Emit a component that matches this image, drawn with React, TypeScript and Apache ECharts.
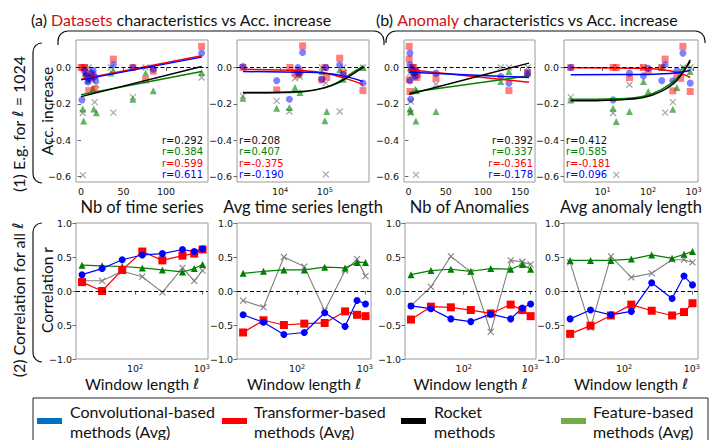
import React, { useEffect, useRef } from 'react';
import * as echarts from 'echarts';

// ---------- (1) accuracy increase per dataset, window length 1024 ----------
// Nb of time series
const nbSeriesConv = [[1, -0.178], [4, -0.02], [6, -0.045], [8, -0.08], [9, -0.06], [12, -0.03], [14, -0.015], [16, -0.05], [17, -0.07], [38, 0.015], [61, 0], [85, -0.01], [142, 0.079]];
const nbSeriesTrans = [[0, 0], [2, 0], [4, 0], [6, -0.03], [8, -0.05], [9, -0.127], [12, -0.06], [14, -0.04], [16, -0.12], [38, 0.046], [61, 0], [76, -0.068], [85, -0.02], [142, 0.116]];
const nbSeriesFeat = [[2, -0.228], [3, -0.294], [5, -0.03], [8, -0.07], [12, -0.05], [14, -0.114], [15, -0.228], [18, -0.248], [35, -0.03], [38, -0.018], [61, -0.174], [76, -0.03], [85, -0.128], [142, -0.028]];
const nbSeriesRocket = [[2, -0.591], [2, -0.25], [5, 0], [9, 0], [12, -0.06], [16, -0.19], [18, -0.095], [35, 0], [38, -0.248], [61, -0.163], [76, 0], [85, 0], [142, -0.055]];
const nbSeriesFitRocket = [[0, -0.16], [142, 0.005]];
const nbSeriesFitFeat = [[0, -0.15], [142, -0.022]];
const nbSeriesFitTrans = [[0, -0.064], [142, 0.064]];
const nbSeriesFitConv = [[0, -0.068], [142, 0.057]];
const nbSeriesR = ['0.292', '0.384', '0.599', '0.611'];

// Avg time series length
const tsLenConv = [[1480, 0.005], [8400, -0.072], [16100, -0.174], [25000, 0], [26000, -0.03], [31800, 0.083], [85000, -0.064], [105000, 0], [214000, 0.015], [257000, -0.037], [708000, -0.086]];
const tsLenTrans = [[1480, 0], [8400, -0.123], [16600, 0], [21500, -0.03], [25000, -0.04], [27800, -0.02], [31800, 0.119], [85000, -0.068], [100000, 0], [110000, -0.053], [214000, 0.051], [257000, -0.031], [708000, -0.127]];
const tsLenFeat = [[1480, -0.169], [8400, -0.224], [16100, -0.22], [21500, -0.11], [27800, -0.138], [27000, -0.03], [85000, -0.022], [100000, -0.292], [110000, -0.242], [214000, -0.013], [257000, -0.064], [708000, 0]];
const tsLenRocket = [[1480, -0.156], [8400, -0.183], [16100, -0.242], [21500, -0.059], [27800, -0.05], [85000, 0], [105000, -0.086], [105000, -0.587], [214000, -0.242], [257000, 0], [708000, 0]];
const tsLenFitRocket = [[1480, -0.138], [30000, -0.132], [100000, -0.11], [214000, -0.08], [427000, -0.035], [708000, 0]];
const tsLenFitFeat = [[1480, -0.14], [30000, -0.134], [100000, -0.112], [214000, -0.075], [427000, -0.025], [708000, 0.008]];
const tsLenFitTrans = [[1480, -0.01], [30000, -0.017], [100000, -0.03], [257000, -0.057], [708000, -0.093]];
const tsLenFitConv = [[1480, -0.022], [30000, -0.026], [100000, -0.031], [257000, -0.046], [708000, -0.077]];
const tsLenR = ['0.208', '0.407', '-0.375', '-0.190'];

// Nb of anomalies
const nbAnomConv = [[2, 0.079], [2, 0.015], [2, -0.072], [3, -0.174], [5, -0.01], [7, -0.03], [9, -0.05], [11, -0.02], [37, -0.031], [124, -0.05], [135, -0.086], [160, -0.031]];
const nbAnomTrans = [[1, 0.116], [1, 0.046], [1, -0.068], [2, -0.132], [5, 0], [7, 0], [9, -0.02], [11, -0.055], [12, -0.04], [37, -0.059], [135, -0.127], [160, -0.028]];
const nbAnomFeat = [[2, -0.228], [3, -0.242], [10, -0.294], [9, -0.119], [11, -0.128], [4, -0.01], [6, -0.03], [37, -0.242], [124, -0.077], [135, -0.022], [160, -0.031]];
const nbAnomRocket = [[10, -0.59], [3, -0.25], [3, -0.187], [2, -0.03], [6, 0], [8, -0.05], [37, -0.092], [124, 0], [135, 0], [160, 0]];
const nbAnomFitRocket = [[1, -0.147], [162, 0.024]];
const nbAnomFitFeat = [[1, -0.138], [162, -0.046]];
const nbAnomFitTrans = [[1, -0.013], [162, -0.081]];
const nbAnomFitConv = [[1, -0.026], [162, -0.055]];
const nbAnomR = ['0.392', '0.337', '-0.361', '-0.178'];

// Avg anomaly length
const anomLenConv = [[2, 0], [17, -0.178], [39, -0.031], [79, -0.046], [101, -0.005], [200, -0.072], [237, 0.015], [350, -0.073], [430, -0.017], [582, 0.079], [843, -0.086]];
const anomLenTrans = [[2, 0], [17, 0], [20, 0], [39, -0.055], [79, 0], [101, -0.022], [200, 0], [237, 0.046], [350, -0.128], [430, -0.04], [520, -0.06], [582, 0.116], [843, -0.132]];
const anomLenFeat = [[2, -0.178], [17, -0.224], [20, -0.297], [39, -0.242], [79, -0.077], [101, -0.132], [200, 0], [350, -0.229], [430, -0.11], [582, -0.005], [843, -0.022]];
const anomLenRocket = [[2, -0.163], [17, -0.25], [20, -0.59], [39, -0.095], [79, 0], [200, 0], [237, -0.248], [350, -0.19], [582, 0], [843, 0]];
const anomLenFitRocket = [[2, -0.183], [20, -0.178], [79, -0.165], [200, -0.13], [430, -0.07], [843, 0.042]];
const anomLenFitFeat = [[2, -0.175], [20, -0.172], [79, -0.158], [200, -0.12], [430, -0.06], [843, 0.03]];
const anomLenFitTrans = [[2, -0.002], [100, -0.006], [300, -0.018], [600, -0.038], [843, -0.055]];
const anomLenFitConv = [[2, -0.04], [100, -0.038], [300, -0.033], [600, -0.024], [843, -0.015]];
const anomLenR = ['0.412', '0.585', '-0.181', '0.096'];

// ---------- (2) correlation r for every window length ----------
const windowLengths = [16, 32, 64, 128, 256, 512, 768, 1024];

const corrNbSeriesConv = [0.24, 0.33, 0.46, 0.53, 0.55, 0.61, 0.58, 0.62];
const corrNbSeriesTrans = [0.13, 0.0, 0.31, 0.58, 0.45, 0.52, 0.55, 0.61];
const corrNbSeriesFeat = [0.38, 0.37, 0.36, 0.34, 0.31, 0.28, 0.33, 0.39];
const corrNbSeriesRocket = [0.15, 0.15, 0.29, 0.21, -0.02, 0.34, 0.15, 0.3];

const corrTsLenConv = [-0.35, -0.46, -0.64, -0.61, -0.32, -0.52, -0.14, -0.19];
const corrTsLenTrans = [-0.61, -0.43, -0.5, -0.48, -0.47, -0.3, -0.35, -0.37];
const corrTsLenFeat = [0.26, 0.29, 0.31, 0.31, 0.35, 0.34, 0.42, 0.42];
const corrTsLenRocket = [-0.14, -0.24, 0.5, 0.36, -0.29, 0.3, 0.47, 0.22];

const corrNbAnomConv = [-0.22, -0.26, -0.41, -0.45, -0.34, -0.41, -0.25, -0.19];
const corrNbAnomTrans = [-0.42, -0.23, -0.24, -0.28, -0.33, -0.2, -0.28, -0.37];
const corrNbAnomFeat = [0.24, 0.3, 0.32, 0.29, 0.33, 0.32, 0.39, 0.32];
const corrNbAnomRocket = [-0.22, 0.06, 0.51, 0.28, -0.6, 0.45, 0.43, 0.39];

const corrAnomLenConv = [-0.41, -0.28, -0.35, -0.3, 0.12, -0.11, 0.22, 0.09];
const corrAnomLenTrans = [-0.63, -0.51, -0.36, -0.2, -0.29, -0.36, -0.31, -0.18];
const corrAnomLenFeat = [0.45, 0.45, 0.45, 0.47, 0.53, 0.48, 0.54, 0.58];
const corrAnomLenRocket = [0.42, -0.54, 0.51, 0.2, 0.26, 0.46, 0.46, 0.42];

const topAxisNames = ['Nb of time series', 'Avg time series length', 'Nb of Anomalies', 'Avg anomaly length'];
const legendLabels = [
  ['Convolutional-based', 'methods (Avg)'],
  ['Transformer-based', 'methods (Avg)'],
  ['Rocket', 'methods'],
  ['Feature-based', 'methods (Avg)'],
];

// ---------- styling ----------
const BLUE = '#0000ff';
const RED = '#ff0000';
const GREEN = '#008000';
const GREY = '#808080';
const CROSS = 'path://M0,0L10,10M10,0L0,10';
const SANS = 'Lato';
const TICK_FONT = 'DejaVu Sans';
const FRAME = '#9a9a9a';
const MINUS = '\u2212';

const topGrids = [
  { left: 76, top: 40, width: 132, height: 142 },
  { left: 237, top: 40, width: 132, height: 142 },
  { left: 404, top: 40, width: 131, height: 142 },
  { left: 564, top: 40, width: 134, height: 142 },
];
const bottomGrids = [
  { left: 76, top: 223, width: 132, height: 136 },
  { left: 237, top: 223, width: 134, height: 136 },
  { left: 405, top: 223, width: 131, height: 136 },
  { left: 564, top: 223, width: 134, height: 136 },
];

const fmtSigned = (v: number) => (v < 0 ? MINUS : '') + Math.abs(v).toFixed(1);
const fmtPow = (v: number) => `10{s|${Math.round(Math.log10(v))}}`;

const tickLabel = {
  fontFamily: TICK_FONT,
  fontSize: 9.5,
  lineHeight: 11,
  color: '#111',
  margin: 4,
  rich: { s: { fontFamily: TICK_FONT, fontSize: 6.5, lineHeight: 8, verticalAlign: 'top' } },
};
const tickStyle = { show: true, length: 3.5, lineStyle: { color: '#444', width: 0.8 } };

function xLinear(gridIndex: number, min: number, max: number, name: string) {
  return {
    type: 'value', gridIndex, min, max, splitNumber: 3,
    axisLine: { show: false }, axisTick: tickStyle, splitLine: { show: false },
    axisLabel: { ...tickLabel, showMinLabel: false, showMaxLabel: false },
    name, nameLocation: 'middle', nameGap: 16,
    nameTextStyle: { fontFamily: SANS, fontSize: 16.5, lineHeight: 18, color: '#111' },
  };
}
function xLog(gridIndex: number, min: number, max: number, name: string, gap: number, size: number, rich?: any) {
  return {
    type: 'log', logBase: 10, gridIndex, min, max,
    axisLine: { show: false }, axisTick: tickStyle, splitLine: { show: false },
    axisLabel: { ...tickLabel, formatter: fmtPow, showMinLabel: false, showMaxLabel: false },
    name, nameLocation: 'middle', nameGap: gap,
    nameTextStyle: { fontFamily: SANS, fontSize: size, lineHeight: size + 1.5, color: '#111', rich },
  };
}
function yTop(gridIndex: number) {
  return {
    type: 'value', gridIndex, min: -0.629, max: 0.151,
    axisLine: { show: false }, axisTick: tickStyle, splitLine: { show: false },
    axisLabel: { ...tickLabel, margin: 5, formatter: fmtSigned, showMinLabel: false, showMaxLabel: false },
  };
}
function yBottom(gridIndex: number, first: boolean) {
  return {
    type: 'value', gridIndex, min: -1, max: 1, interval: 0.5,
    axisLine: { show: false }, axisTick: tickStyle, splitLine: { show: false },
    axisLabel: {
      ...tickLabel, margin: 4, showMinLabel: true, showMaxLabel: true,
      // the first panel prints the −0.5 label without its sign
      formatter: (v: number) => (first && Math.abs(v + 0.5) < 1e-9 ? '0.5' : fmtSigned(v)),
    },
  };
}

const zeroLine = {
  silent: true,
  symbol: ['none', 'none'],
  label: { show: false },
  lineStyle: { color: '#000', type: [4, 2.5], width: 1 },
  data: [{ yAxis: 0 }],
};

function scatter(idx: number, data: number[][], kind: string) {
  const base: any = { type: 'scatter', xAxisIndex: idx, yAxisIndex: idx, data, symbolSize: 7, z: 2 };
  if (kind === 'conv') return { ...base, symbol: 'circle', itemStyle: { color: BLUE, opacity: 0.5 } };
  if (kind === 'trans') return { ...base, symbol: 'rect', itemStyle: { color: RED, opacity: 0.5 } };
  if (kind === 'feat') return { ...base, symbol: 'triangle', itemStyle: { color: GREEN, opacity: 0.6 } };
  return { ...base, symbol: CROSS, symbolSize: 6, itemStyle: { color: 'rgba(0,0,0,0)', borderColor: 'rgba(70,70,70,0.6)', borderWidth: 1.2 } };
}
function fit(idx: number, data: number[][], color: string, smooth: boolean) {
  return {
    type: 'line', xAxisIndex: idx, yAxisIndex: idx, data, showSymbol: false, symbol: 'none',
    smooth: smooth ? 0.4 : false, lineStyle: { color, width: 1.5 }, z: 4,
  };
}
function corr(idx: number, ys: number[], kind: string) {
  const data = windowLengths.map((w, i) => [w, ys[i]]);
  const base: any = { type: 'line', xAxisIndex: idx, yAxisIndex: idx, data, z: 3 };
  if (kind === 'conv') return { ...base, symbol: 'circle', symbolSize: 7, itemStyle: { color: BLUE }, lineStyle: { color: BLUE, width: 1.2 } };
  if (kind === 'trans') return { ...base, symbol: 'rect', symbolSize: 8, itemStyle: { color: RED }, lineStyle: { color: RED, width: 1.2 } };
  if (kind === 'feat') return { ...base, symbol: 'triangle', symbolSize: 7, itemStyle: { color: GREEN }, lineStyle: { color: GREEN, width: 1.2 } };
  return { ...base, symbol: CROSS, symbolSize: 6, itemStyle: { color: 'rgba(0,0,0,0)', borderColor: GREY, borderWidth: 1.1 }, lineStyle: { color: GREY, width: 1.1 } };
}

function rTexts(values: string[], x: number, align: 'left' | 'right') {
  const colors = ['#111', GREEN, RED, BLUE];
  const ys = [140, 151.5, 163, 174.5];
  return values.map((v, i) => ({
    type: 'text', x, y: ys[i], z: 10,
    style: {
      text: 'r=' + v, fill: colors[i], font: `10px "${TICK_FONT}"`,
      textAlign: align, textVerticalAlign: 'middle',
    },
  }));
}

function vBracket(x: number, y0: number, y1: number) {
  const r = 9;
  const st = { stroke: '#111', lineWidth: 1.2, fill: 'none' };
  return [
    { type: 'arc', shape: { cx: x + r, cy: y0 + r, r, startAngle: Math.PI, endAngle: Math.PI * 1.5 }, style: st },
    { type: 'line', shape: { x1: x, y1: y0 + r, x2: x, y2: y1 - r }, style: st },
    { type: 'arc', shape: { cx: x + r, cy: y1 - r, r, startAngle: Math.PI * 0.5, endAngle: Math.PI }, style: st },
  ];
}
function hBracket(x0: number, x1: number, y: number, drop: number) {
  const r = 10;
  const st = { stroke: '#111', lineWidth: 1.2, fill: 'none' };
  return [
    { type: 'arc', shape: { cx: x0 + r, cy: y + r, r, startAngle: Math.PI, endAngle: Math.PI * 1.5 }, style: st },
    { type: 'line', shape: { x1: x0, y1: y + r, x2: x0, y2: y + drop }, style: st },
    { type: 'line', shape: { x1: x0 + r, y1: y, x2: x1 - r, y2: y }, style: st },
    { type: 'arc', shape: { cx: x1 - r, cy: y + r, r, startAngle: Math.PI * 1.5, endAngle: Math.PI * 2 }, style: st },
    { type: 'line', shape: { x1: x1, y1: y + r, x2: x1, y2: y + drop }, style: st },
  ];
}

function buildOption() {
  const grids = [...topGrids, ...bottomGrids].map((g) => ({
    ...g, show: true, borderColor: FRAME, borderWidth: 1, backgroundColor: 'transparent', containLabel: false,
  }));

  const ellRich = { i: { fontFamily: 'DejaVu Sans', fontStyle: 'italic', fontSize: 14.5 } };
  const xAxis = [
    xLinear(0, -6, 149.5, topAxisNames[0]),
    xLog(1, 1092, 964000, topAxisNames[1], 16, 16.5),
    xLinear(2, -6, 170, topAxisNames[2]),
    xLog(3, 1.42, 1250, topAxisNames[3], 16, 16.5),
    ...[4, 5, 6, 7].map((i) => xLog(i, 13, 1235, 'Window length {i|ℓ}', 16, 15.5, ellRich)),
  ];
  const yAxis = [yTop(0), yTop(1), yTop(2), yTop(3), yBottom(4, true), yBottom(5, false), yBottom(6, false), yBottom(7, false)];

  const topSets = [
    [nbSeriesConv, nbSeriesTrans, nbSeriesFeat, nbSeriesRocket, nbSeriesFitRocket, nbSeriesFitFeat, nbSeriesFitTrans, nbSeriesFitConv, false],
    [tsLenConv, tsLenTrans, tsLenFeat, tsLenRocket, tsLenFitRocket, tsLenFitFeat, tsLenFitTrans, tsLenFitConv, true],
    [nbAnomConv, nbAnomTrans, nbAnomFeat, nbAnomRocket, nbAnomFitRocket, nbAnomFitFeat, nbAnomFitTrans, nbAnomFitConv, false],
    [anomLenConv, anomLenTrans, anomLenFeat, anomLenRocket, anomLenFitRocket, anomLenFitFeat, anomLenFitTrans, anomLenFitConv, true],
  ] as any[];

  const series: any[] = [];
  topSets.forEach((s, i) => {
    const first = scatter(i, s[3], 'rocket');
    (first as any).markLine = zeroLine;
    series.push(first, scatter(i, s[2], 'feat'), scatter(i, s[1], 'trans'), scatter(i, s[0], 'conv'));
    series.push(fit(i, s[5], GREEN, s[8]), fit(i, s[6], RED, s[8]), fit(i, s[7], BLUE, s[8]), fit(i, s[4], '#000', s[8]));
  });

  const bottomSets = [
    [corrNbSeriesConv, corrNbSeriesTrans, corrNbSeriesFeat, corrNbSeriesRocket],
    [corrTsLenConv, corrTsLenTrans, corrTsLenFeat, corrTsLenRocket],
    [corrNbAnomConv, corrNbAnomTrans, corrNbAnomFeat, corrNbAnomRocket],
    [corrAnomLenConv, corrAnomLenTrans, corrAnomLenFeat, corrAnomLenRocket],
  ];
  bottomSets.forEach((s, k) => {
    const idx = k + 4;
    const g = corr(idx, s[3], 'rocket');
    g.markLine = zeroLine;
    series.push(g, corr(idx, s[2], 'feat'), corr(idx, s[1], 'trans'), corr(idx, s[0], 'conv'));
  });

  const textFont = (size: number) => `${size}px "${SANS}"`;
  const graphic: any[] = [
    // panel titles
    {
      type: 'text', x: 31, y: 19,
      style: {
        text: '(a) {r|Datasets} characteristics vs Acc. increase',
        font: textFont(16), fill: '#111', textVerticalAlign: 'middle',
        rich: { r: { fill: '#cc1111', font: textFont(16) } },
      },
    },
    {
      type: 'text', x: 376, y: 19,
      style: {
        text: '(b) {r|Anomaly} characteristics vs Acc. increase',
        font: textFont(16), fill: '#111', textVerticalAlign: 'middle',
        rich: { r: { fill: '#cc1111', font: textFont(16) } },
      },
    },
    ...hBracket(58, 384, 31, 14),
    ...hBracket(386, 705, 31, 12),
    // row labels
    {
      type: 'text', x: 18, y: 124, rotation: Math.PI / 2,
      style: {
        text: '(1) E.g. for {i|ℓ} = 1024', font: textFont(16), fill: '#111',
        textAlign: 'center', textVerticalAlign: 'middle',
        rich: { i: { fontFamily: 'DejaVu Sans', fontStyle: 'italic', fontSize: 15 } },
      },
    },
    {
      type: 'text', x: 18, y: 300, rotation: Math.PI / 2,
      style: {
        text: '(2) Correlation for all {i|ℓ}', font: textFont(16), fill: '#111',
        textAlign: 'center', textVerticalAlign: 'middle',
        rich: { i: { fontFamily: 'DejaVu Sans', fontStyle: 'italic', fontSize: 15 } },
      },
    },
    ...vBracket(33, 43, 183),
    ...vBracket(33, 223, 362),
    // y axis titles
    {
      type: 'text', x: 47, y: 111, rotation: Math.PI / 2,
      style: { text: 'Acc. increase', font: textFont(15.5), fill: '#111', textAlign: 'center', textVerticalAlign: 'middle' },
    },
    {
      type: 'text', x: 47, y: 290, rotation: Math.PI / 2,
      style: { text: 'Correlation r', font: textFont(15.5), fill: '#111', textAlign: 'center', textVerticalAlign: 'middle' },
    },
    // correlation annotations
    ...rTexts(nbSeriesR, 203, 'right'),
    ...rTexts(tsLenR, 239, 'left'),
    ...rTexts(nbAnomR, 533, 'right'),
    ...rTexts(anomLenR, 566, 'left'),
    // legend frame
    { type: 'rect', shape: { x: 33, y: 398, width: 675, height: 60 }, style: { fill: 'none', stroke: '#222', lineWidth: 1 } },
  ];

  const legendColors = ['#0070c0', '#ff0000', '#000000', '#70ad47'];
  const legendBarX = [37, 222, 401, 561];
  const legendTextX = [70, 254, 434, 593];
  legendLabels.forEach((lines, i) => {
    graphic.push({ type: 'rect', shape: { x: legendBarX[i], y: 418, width: 25, height: 6 }, style: { fill: legendColors[i] } });
    graphic.push({ type: 'text', x: legendTextX[i], y: 411, style: { text: lines[0], font: textFont(16), fill: '#111', textVerticalAlign: 'middle' } });
    graphic.push({ type: 'text', x: legendTextX[i], y: 431, style: { text: lines[1], font: textFont(16), fill: '#111', textVerticalAlign: 'middle' } });
  });

  return { animation: false, backgroundColor: '#ffffff', grid: grids, xAxis, yAxis, series, graphic };
}

export default function App() {
  const ref = useRef<HTMLDivElement>(null);
  useEffect(() => {
    document.body.style.margin = '0';
    if (!ref.current) return;
    const chart = echarts.init(ref.current, undefined, { renderer: 'svg' });
    chart.setOption(buildOption() as any);
    return () => chart.dispose();
  }, []);
  return <div ref={ref} style={{ width: 723, height: 440 }} />;
}
